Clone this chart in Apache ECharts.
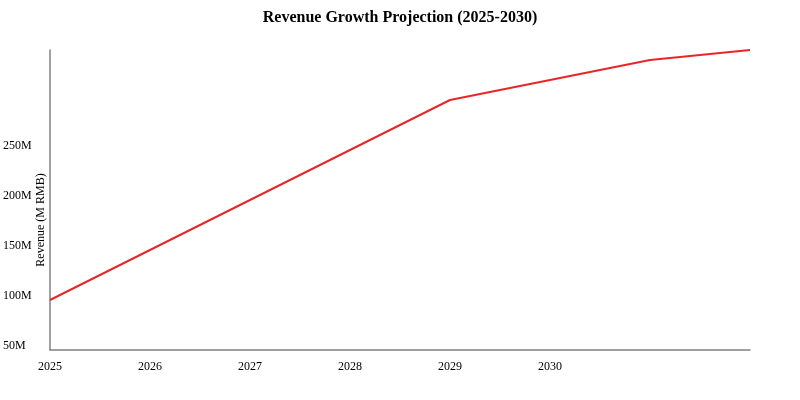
<!DOCTYPE html>
<html>
<head>
<meta charset="utf-8">
<script src="https://cdn.jsdelivr.net/npm/echarts@6/dist/echarts.min.js"></script>
<style>
html,body{margin:0;padding:0;background:#fff;}
#chart{width:800px;height:400px;}
</style>
</head>
<body>
<div id="chart"></div>
<script>
const years = [2025, 2026, 2027, 2028, 2029, 2030, 2031, 2032];
const revenue = [100, 150, 200, 250, 300, 320, 340, 350];
const xTickLabels = [2025, 2026, 2027, 2028, 2029, 2030];
const yTickLabels = [50, 100, 150, 200, 250];

const FONT = '"Liberation Serif", "Times New Roman", serif';
const chart = echarts.init(document.getElementById('chart'), null, {renderer: 'canvas'});
chart.setOption({
  animation: false,
  backgroundColor: '#fff',
  title: {
    text: 'Revenue Growth Projection (2025-2030)',
    left: 'center',
    top: 5,
    textStyle: {fontFamily: FONT, fontSize: 16, fontWeight: 'bold', color: '#000'}
  },
  grid: {left: 50, right: 50, top: 50, bottom: 50},
  xAxis: {
    type: 'value',
    min: 2025, max: 2032, interval: 1,
    splitLine: {show: false},
    axisTick: {show: false},
    axisLine: {show: true, lineStyle: {color: '#808080', width: 1.5}},
    axisLabel: {
      margin: 11,
      fontFamily: FONT, fontSize: 12, color: '#000',
      showMinLabel: true, showMaxLabel: true,
      formatter: v => xTickLabels.includes(v) ? String(v) : ''
    }
  },
  yAxis: {
    type: 'value',
    min: 50, max: 350, interval: 50,
    splitLine: {show: false},
    axisTick: {show: false},
    axisLine: {show: true, lineStyle: {color: '#808080', width: 1.5}},
    axisLabel: {
      margin: 47, align: 'left', verticalAlign: 'bottom',
      lineHeight: 8,
      fontFamily: FONT, fontSize: 12, color: '#000',
      formatter: v => yTickLabels.includes(v) ? v + 'M' : ''
    }
  },
  graphic: [{
    type: 'text',
    x: 41, y: 220, rotation: Math.PI / 2,
    style: {
      text: 'Revenue (M RMB)', fontFamily: FONT, fontSize: 12, fill: '#000',
      align: 'center', verticalAlign: 'middle'
    }
  }],
  series: [{
    type: 'line',
    data: years.map((y, i) => [y, revenue[i]]),
    showSymbol: false,
    lineStyle: {color: '#e8262a', width: 2},
    itemStyle: {color: '#e8262a'}
  }]
});
</script>
</body>
</html>
